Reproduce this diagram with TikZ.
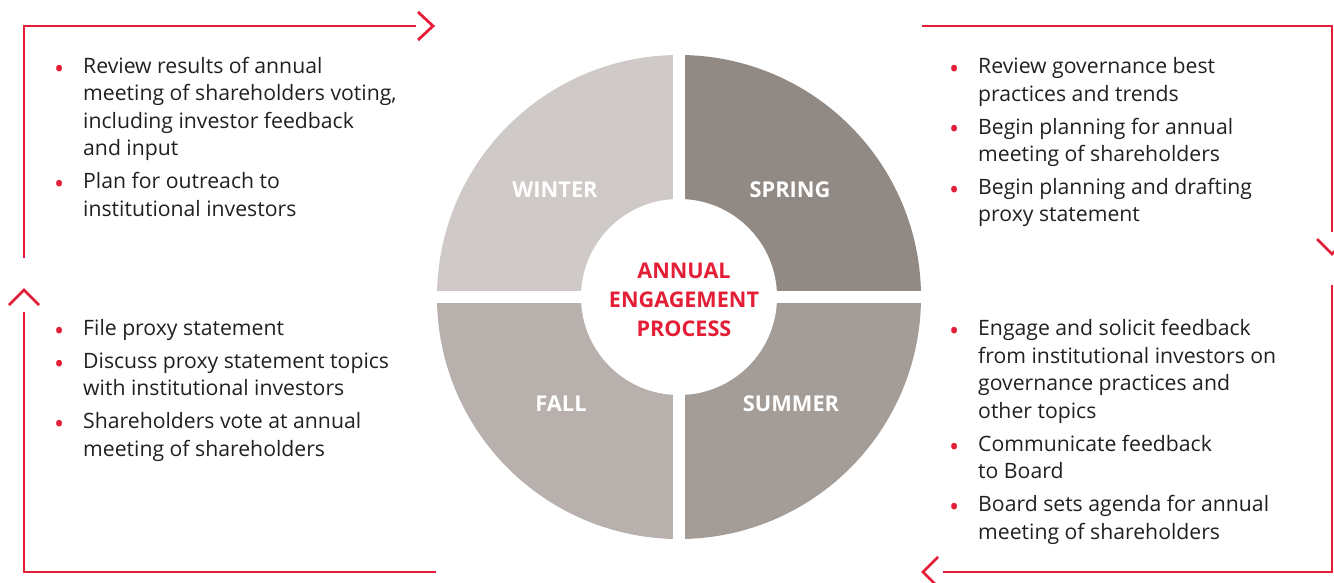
\documentclass[tikz,border=0pt]{standalone}
\usepackage{fontspec}
\setmainfont{Open Sans}
\usepackage{tikz}
\definecolor{accent}{HTML}{E31E36}
\definecolor{winterc}{HTML}{CFCAC7}
\definecolor{springc}{HTML}{918983}
\definecolor{fallc}{HTML}{B7B0AD}
\definecolor{summerc}{HTML}{A39C97}
\definecolor{ink}{HTML}{231F20}
\newcommand{\bul}{\llap{\raisebox{-5pt}{\textcolor{accent}{\fontsize{27}{0}\selectfont\textbullet}}\hspace{19pt}}}

\begin{document}
\begin{tikzpicture}[x=1pt,y=1pt,
    frame/.style={accent,line width=2.8pt},
    listtext/.style={anchor=base west,align=left,inner sep=0pt,text=ink,font=\fontsize{21.2}{27.5}\selectfont},
    season/.style={text=white,font=\bfseries\fontsize{21.8}{25}\selectfont},
    hubtext/.style={align=center,text=accent,font=\bfseries\fontsize{21.6}{29}\selectfont}]
    \useasboundingbox (0,0) rectangle (1334,-583);
    \clip (0,0) rectangle (1334,-583);
    % wheel
    \coordinate (c) at (679,-297);
    \fill[winterc] (c) -- ++(180:242pt) arc (180:90:242pt) -- cycle;
    \fill[springc] (c) -- ++(90:242pt) arc (90:0:242pt) -- cycle;
    \fill[summerc] (c) -- ++(0:242pt) arc (0:-90:242pt) -- cycle;
    \fill[fallc] (c) -- ++(-90:242pt) arc (-90:-180:242pt) -- cycle;
    \draw[white,line width=12pt] (679,-45) -- (679,-549);
    \draw[white,line width=12pt] (430,-297) -- (928,-297);
    \fill[white] (c) circle (98pt);
    \node[season] (winter) at (555,-190) {WINTER};
    \node[season] (spring) at (790,-190) {SPRING};
    \node[season] (fall) at (561,-404) {FALL};
    \node[season] (summer) at (791,-404) {SUMMER};
    \node[hubtext] (hub) at (684,-300) {ANNUAL\\ENGAGEMENT\\PROCESS};
    % frame with arrows
    \draw[frame] (24,-258) -- (24,-26) -- (416,-26);
    \draw[frame] (418,-12) -- (433,-26) -- (418,-40);
    \draw[frame] (922,-26) -- (1332,-26) -- (1332,-232);
    \draw[frame] (1317,-239) -- (1332,-254) -- (1347,-239);
    \draw[frame] (1332,-285) -- (1332,-572) -- (943,-572);
    \draw[frame] (938,-557) -- (923,-572) -- (938,-587);
    \draw[frame] (24,-312) -- (24,-572) -- (436,-572);
    \draw[frame] (9,-305) -- (24,-290) -- (39,-305);
    % lists (anchored at the last baseline)
    \node[listtext] (winterlist) at (83,-216) {\bul Review results of annual\\
        meeting of shareholders voting,\\
        including investor feedback\\
        and input\\[5.5pt]
        \bul Plan for outreach to\\
        institutional investors};
    \node[listtext] (springlist) at (978,-222) {\bul Review governance best\\
        practices and trends\\[5.5pt]
        \bul Begin planning for annual\\
        meeting of shareholders\\[5.5pt]
        \bul Begin planning and drafting\\
        proxy statement};
    \node[listtext] (falllist) at (83,-456) {\bul File proxy statement\\[5.5pt]
        \bul Discuss proxy statement topics\\
        with institutional investors\\[5.5pt]
        \bul Shareholders vote at annual\\
        meeting of shareholders};
    \node[listtext] (summerlist) at (978,-539) {\bul Engage and solicit feedback\\
        from institutional investors on\\
        governance practices and\\
        other topics\\[5.5pt]
        \bul Communicate feedback\\
        to Board\\[5.5pt]
        \bul Board sets agenda for annual\\
        meeting of shareholders};
\end{tikzpicture}
\end{document}
